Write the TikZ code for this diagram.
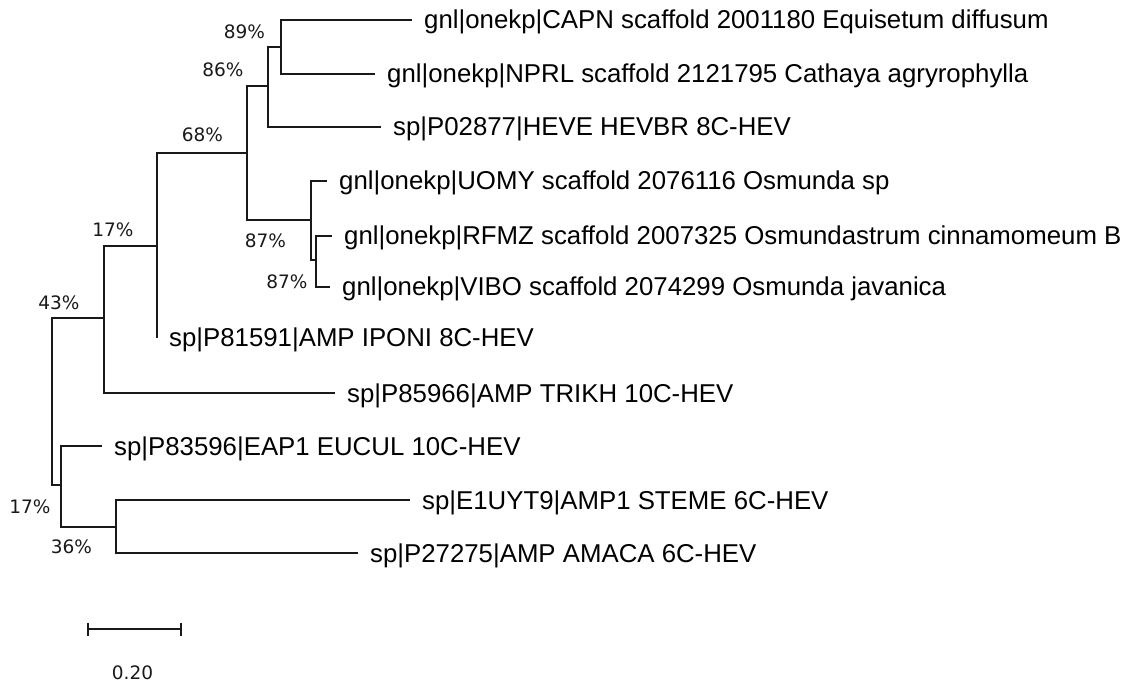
\documentclass[tikz,border=0pt]{standalone}
\usepackage{fontspec}
\setmainfont{Liberation Sans}
\newfontfamily\pctfont{DejaVu Sans}
\begin{document}
\begin{tikzpicture}[x=1pt,y=-1pt,
  branch/.style={line width=1.5pt,color=black!90},
  leaftext/.style={anchor=base west,inner sep=0pt,font=\fontsize{25.8}{28}\selectfont},
  pct/.style={anchor=center,inner sep=0pt,font=\pctfont\fontsize{18.5}{20}\selectfont,text=black!90},
  gap/.style={xshift=12pt,yshift=-9pt}]
\useasboundingbox (0,0) rectangle (1132,684);
% internal nodes
\coordinate (root) at (52,402);
\coordinate (n43) at (104,318);
\coordinate (n17a) at (157,246);
\coordinate (n68) at (247,153);
\coordinate (n86) at (268,86);
\coordinate (n89) at (281,47);
\coordinate (nos1) at (311,220);
\coordinate (nos2) at (316,260);
\coordinate (n17b) at (61,485);
\coordinate (n36) at (116,527);
% leaf tips
\coordinate (t1) at (412,20);
\coordinate (t2) at (375,74);
\coordinate (t3) at (381,127);
\coordinate (t4) at (327,181);
\coordinate (t5) at (332,236);
\coordinate (t6) at (330,287);
\coordinate (t7) at (157,338);
\coordinate (t8) at (335,393);
\coordinate (t9) at (102,446);
\coordinate (t10) at (410,500);
\coordinate (t11) at (358,553);
% branches
\draw[branch] (root) |- (n43);
\draw[branch] (root) |- (n17b);
\draw[branch] (n43) |- (n17a);
\draw[branch] (n43) |- (t8);
\draw[branch] (n17a) |- (n68);
\draw[branch] (n17a) |- (t7);
\draw[branch] (n68) |- (n86);
\draw[branch] (n68) |- (nos1);
\draw[branch] (n86) |- (n89);
\draw[branch] (n86) |- (t3);
\draw[branch] (n89) |- (t1);
\draw[branch] (n89) |- (t2);
\draw[branch] (nos1) |- (t4);
\draw[branch] (nos1) |- (nos2);
\draw[branch] (nos2) |- (t5);
\draw[branch] (nos2) |- (t6);
\draw[branch] (n17b) |- (t9);
\draw[branch] (n17b) |- (n36);
\draw[branch] (n36) |- (t10);
\draw[branch] (n36) |- (t11);
% leaf labels
\node[leaftext] (L1) at ([gap]t1) {gnl|onekp|CAPN scaffold 2001180 Equisetum diffusum};
\node[leaftext] (L2) at ([gap]t2) {gnl|onekp|NPRL scaffold 2121795 Cathaya agryrophylla};
\node[leaftext] (L3) at ([gap]t3) {sp|P02877|HEVE HEVBR 8C-HEV};
\node[leaftext] (L4) at ([gap]t4) {gnl|onekp|UOMY scaffold 2076116 Osmunda sp};
\node[leaftext] (L5) at ([gap]t5) {gnl|onekp|RFMZ scaffold 2007325 Osmundastrum cinnamomeum B};
\node[leaftext] (L6) at ([gap]t6) {gnl|onekp|VIBO scaffold 2074299 Osmunda javanica};
\node[leaftext] (L7) at ([gap]t7) {sp|P81591|AMP IPONI 8C-HEV};
\node[leaftext] (L8) at ([gap]t8) {sp|P85966|AMP TRIKH 10C-HEV};
\node[leaftext] (L9) at ([gap]t9) {sp|P83596|EAP1 EUCUL 10C-HEV};
\node[leaftext] (L10) at ([gap]t10) {sp|E1UYT9|AMP1 STEME 6C-HEV};
\node[leaftext] (L11) at ([gap]t11) {sp|P27275|AMP AMACA 6C-HEV};
% bootstrap values
\node[pct] (p89) at (244.5,31.5) {89\%};
\node[pct] (p86) at (223,70) {86\%};
\node[pct] (p68) at (202.5,135) {68\%};
\node[pct] (p87a) at (265.5,240.5) {87\%};
\node[pct] (p87b) at (287,281.5) {87\%};
\node[pct] (p17a) at (113,230) {17\%};
\node[pct] (p43) at (59,302.5) {43\%};
\node[pct] (p17b) at (30,506.5) {17\%};
\node[pct] (p36) at (71.5,547) {36\%};
% scale bar
\coordinate (s1) at (88,629);
\coordinate (s2) at (181,629);
\draw[branch] (s1) -- (s2);
\draw[branch] ([yshift=6.5pt]s1) -- ([yshift=-6.5pt]s1);
\draw[branch] ([yshift=6.5pt]s2) -- ([yshift=-6.5pt]s2);
\node[pct] (scale) at (132.5,673) {0.20};
\end{tikzpicture}
\end{document}
